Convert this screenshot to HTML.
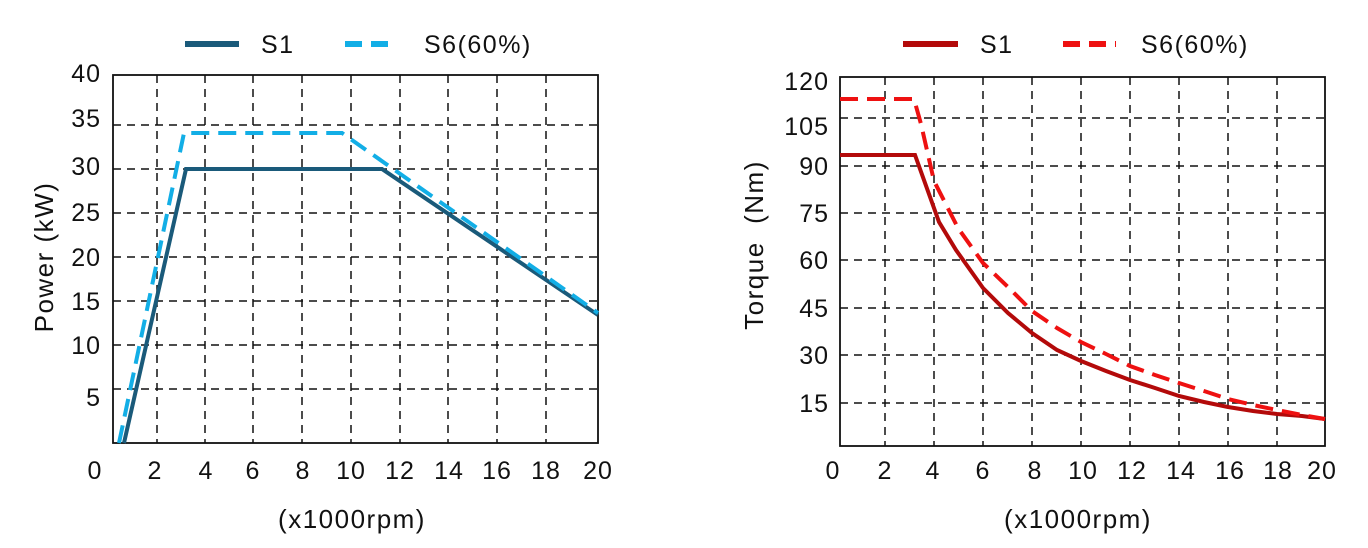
<!DOCTYPE html>
<html><head><meta charset="utf-8"><style>
html,body{margin:0;padding:0;background:#fff;}
svg{display:block;font-family:"Liberation Sans",sans-serif;}
</style></head><body>
<svg width="1368" height="548" viewBox="0 0 1368 548" xmlns="http://www.w3.org/2000/svg">
<rect width="1368" height="548" fill="#fff"/>
<!-- LEFT CHART -->
<g stroke="#111" stroke-width="1.5" stroke-dasharray="8,6" fill="none">
<line x1="157" y1="75" x2="157" y2="443"/><line x1="205" y1="75" x2="205" y2="443"/>
<line x1="253" y1="75" x2="253" y2="443"/><line x1="302" y1="75" x2="302" y2="443"/>
<line x1="351" y1="75" x2="351" y2="443"/><line x1="400" y1="75" x2="400" y2="443"/>
<line x1="448" y1="75" x2="448" y2="443"/><line x1="497" y1="75" x2="497" y2="443"/>
<line x1="546" y1="75" x2="546" y2="443"/>
<line x1="113" y1="125" x2="598" y2="125"/><line x1="113" y1="169" x2="598" y2="169"/>
<line x1="113" y1="213" x2="598" y2="213"/><line x1="113" y1="257" x2="598" y2="257"/>
<line x1="113" y1="301" x2="598" y2="301"/><line x1="113" y1="345" x2="598" y2="345"/>
<line x1="113" y1="389" x2="598" y2="389"/>
</g>
<rect x="113" y="75" width="485" height="368" fill="none" stroke="#111" stroke-width="1.8"/>
<polyline points="124,443 186,169 382,169 598,315" fill="none" stroke="#1a5a7a" stroke-width="4"/>
<polyline points="119,443 184,133 342,133 598,313" fill="none" stroke="#12aee6" stroke-width="4" stroke-dasharray="18,9"/>
<g font-size="25" fill="#111" text-anchor="end" letter-spacing="1">
<text x="101" y="82">40</text><text x="101" y="127">35</text><text x="101" y="175">30</text>
<text x="101" y="221">25</text><text x="101" y="266">20</text><text x="101" y="310">15</text>
<text x="101" y="354">10</text><text x="101" y="406">5</text>
</g>
<g font-size="25" fill="#111" text-anchor="middle" letter-spacing="1">
<text x="95" y="479">0</text><text x="155" y="479">2</text><text x="206" y="479">4</text>
<text x="253" y="479">6</text><text x="303" y="479">8</text><text x="351" y="479">10</text>
<text x="400" y="479">12</text><text x="449" y="479">14</text><text x="497" y="479">16</text>
<text x="546" y="479">18</text><text x="598" y="479">20</text>
<text x="352" y="528" font-size="26" letter-spacing="1.5">(x1000rpm)</text>
<text transform="translate(53,257) rotate(-90)" font-size="26" letter-spacing="1.5">Power (kW)</text>
</g>
<line x1="185" y1="44" x2="239" y2="44" stroke="#1a5a7a" stroke-width="6"/>
<text x="261" y="53" font-size="25" fill="#111" letter-spacing="1.5">S1</text>
<line x1="345" y1="44" x2="397" y2="44" stroke="#12aee6" stroke-width="6" stroke-dasharray="17,9"/>
<text x="424" y="53" font-size="25" fill="#111" letter-spacing="1.5">S6(60%)</text>

<!-- RIGHT CHART -->
<g stroke="#111" stroke-width="1.5" stroke-dasharray="8,6" fill="none">
<line x1="885" y1="77" x2="885" y2="446"/><line x1="934" y1="77" x2="934" y2="446"/>
<line x1="983" y1="77" x2="983" y2="446"/><line x1="1032" y1="77" x2="1032" y2="446"/>
<line x1="1081" y1="77" x2="1081" y2="446"/><line x1="1130" y1="77" x2="1130" y2="446"/>
<line x1="1179" y1="77" x2="1179" y2="446"/><line x1="1228" y1="77" x2="1228" y2="446"/>
<line x1="1277" y1="77" x2="1277" y2="446"/>
<line x1="840" y1="118" x2="1325" y2="118"/><line x1="840" y1="166" x2="1325" y2="166"/>
<line x1="840" y1="213" x2="1325" y2="213"/><line x1="840" y1="260" x2="1325" y2="260"/>
<line x1="840" y1="308" x2="1325" y2="308"/><line x1="840" y1="355" x2="1325" y2="355"/>
<line x1="840" y1="403" x2="1325" y2="403"/>
</g>
<rect x="840" y="77" width="485" height="369" fill="none" stroke="#111" stroke-width="1.8"/>
<polyline points="840,155 915,155 939,222 956,250 983,288 1008,313 1032,333 1057,350 1081,361 1106,371 1130,380 1155,388 1179,396 1204,402 1228,407 1253,411 1277,414 1302,416 1325,419" fill="none" stroke="#b30a0a" stroke-width="4"/>
<polyline points="840,99 914,99 921,124 934,181 958,228 983,263 1008,287 1032,311 1057,328 1081,342 1106,354 1130,366 1155,375 1179,383 1204,391 1228,399 1253,405 1277,410 1302,415 1325,419" fill="none" stroke="#ee1111" stroke-width="4" stroke-dasharray="18,9"/>
<g font-size="25" fill="#111" text-anchor="end" letter-spacing="1">
<text x="829" y="90">120</text><text x="829" y="135">105</text><text x="829" y="175">90</text>
<text x="829" y="222">75</text><text x="829" y="269">60</text><text x="829" y="317">45</text>
<text x="829" y="364">30</text><text x="829" y="412">15</text>
</g>
<g font-size="25" fill="#111" text-anchor="middle" letter-spacing="1">
<text x="833" y="479">0</text><text x="885" y="479">2</text><text x="933" y="479">4</text>
<text x="983" y="479">6</text><text x="1035" y="479">8</text><text x="1083" y="479">10</text>
<text x="1132" y="479">12</text><text x="1181" y="479">14</text><text x="1230" y="479">16</text>
<text x="1278" y="479">18</text><text x="1322" y="479">20</text>
<text x="1078" y="528" font-size="26" letter-spacing="1.5">(x1000rpm)</text>
<text transform="translate(763,245) rotate(-90)" font-size="26" letter-spacing="1.5" xml:space="preserve">Torque  (Nm)</text>
</g>
<line x1="903" y1="44" x2="958" y2="44" stroke="#b30a0a" stroke-width="6"/>
<text x="980" y="53" font-size="25" fill="#111" letter-spacing="1.5">S1</text>
<line x1="1063" y1="44" x2="1116" y2="44" stroke="#ee1111" stroke-width="6" stroke-dasharray="17,9"/>
<text x="1141" y="53" font-size="25" fill="#111" letter-spacing="1.5">S6(60%)</text>
</svg>
</body></html>
